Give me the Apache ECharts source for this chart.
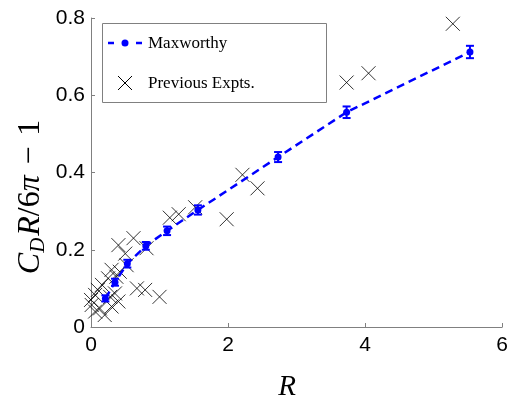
<!DOCTYPE html>
<html>
<head>
<meta charset="utf-8">
<script src="https://cdn.jsdelivr.net/npm/echarts@6/dist/echarts.min.js"></script>
<style>
  html, body { margin: 0; padding: 0; background: #fff; }
  #chart { width: 511px; height: 403px; }
</style>
</head>
<body>
<div id="chart"></div>
<script>
// Maxworthy measurements: R, drag excess, and error half-width
const maxR   = [0.21, 0.35, 0.53, 0.80, 1.11, 1.56, 2.73, 3.73, 5.53];
const maxVal = [0.074, 0.116, 0.164, 0.210, 0.249, 0.303, 0.440, 0.556, 0.712];
const maxErr = [0.008, 0.009, 0.010, 0.010, 0.011, 0.012, 0.013, 0.015, 0.016];

// Earlier experiments
const prevR = [5.28, 3.73, 4.05, 2.21, 2.43, 1.98, 1.52, 1.28, 1.15,
               0.62, 0.40, 0.50, 0.81, 0.52, 0.30, 0.42, 0.37, 0.25,
               0.16, 0.10, 0.06, 0.00, 0.01, 0.13, 0.06, 0.20, 0.30,
               0.40, 0.35, 0.67, 0.79, 1.00, 0.28];
const prevVal = [0.785, 0.633, 0.657, 0.394, 0.359, 0.279, 0.310, 0.292, 0.283,
                 0.230, 0.212, 0.190, 0.204, 0.160, 0.148, 0.143, 0.130, 0.126,
                 0.109, 0.096, 0.083, 0.070, 0.057, 0.048, 0.040, 0.031, 0.053,
                 0.066, 0.087, 0.100, 0.096, 0.078, 0.078];

const xTicks = [0, 2, 4, 6];
const yTicks = [0, 0.2, 0.4, 0.6, 0.8];
const legendNames = ['Maxworthy', 'Previous Expts.'];

const BLUE = '#0000ff';
const CROSS = 'path://M0,0L10,10M10,0L0,10';
const SERIF = '"Liberation Serif", "Times New Roman", serif';

const chart = echarts.init(document.getElementById('chart'), null, { renderer: 'canvas' });

const tickFont = { color: '#000', fontFamily: 'Arial', fontSize: 21 };

// Hand-built legend box (dashed line with dot, and a cross)
const legendGraphics = [
  { type: 'rect', shape: { x: 102.5, y: 23.5, width: 224, height: 79 },
    style: { fill: '#fff', stroke: '#808080', lineWidth: 1 }, z: 10, silent: true },
  { type: 'line', shape: { x1: 108, y1: 43, x2: 114, y2: 43 },
    style: { stroke: BLUE, lineWidth: 2.5 }, z: 11, silent: true },
  { type: 'line', shape: { x1: 136, y1: 43, x2: 142, y2: 43 },
    style: { stroke: BLUE, lineWidth: 2.5 }, z: 11, silent: true },
  { type: 'circle', shape: { cx: 125, cy: 43, r: 3.5 },
    style: { fill: BLUE }, z: 11, silent: true },
  { type: 'polyline', shape: { points: [[118, 76], [132, 90]] },
    style: { stroke: '#000', lineWidth: 1, fill: null }, z: 11, silent: true },
  { type: 'polyline', shape: { points: [[132, 76], [118, 90]] },
    style: { stroke: '#000', lineWidth: 1, fill: null }, z: 11, silent: true },
  { type: 'text', x: 148, y: 44, z: 11, silent: true,
    style: { text: legendNames[0], verticalAlign: 'middle', fill: '#000', font: '17px ' + SERIF } },
  { type: 'text', x: 148, y: 84, z: 11, silent: true,
    style: { text: legendNames[1], verticalAlign: 'middle', fill: '#000', font: '17px ' + SERIF } }
];

chart.setOption({
  animation: false,
  backgroundColor: '#fff',
  grid: { left: 91, right: 8, top: 18, bottom: 76, containLabel: false },
  xAxis: {
    type: 'value', min: xTicks[0], max: xTicks[xTicks.length - 1], interval: 2,
    axisLine: { show: true, lineStyle: { color: '#808080', width: 1 } },
    axisTick: { show: true, inside: true, length: 4, lineStyle: { color: '#808080' } },
    splitLine: { show: false },
    axisLabel: Object.assign({ margin: 8 }, tickFont)
  },
  yAxis: {
    type: 'value', min: yTicks[0], max: yTicks[yTicks.length - 1], interval: 0.2,
    axisLine: { show: true, lineStyle: { color: '#808080', width: 1 } },
    axisTick: { show: true, inside: true, length: 4, lineStyle: { color: '#808080' } },
    splitLine: { show: false },
    axisLabel: Object.assign({ margin: 6, formatter: v => (v === 0 ? '0' : v.toFixed(1)) }, tickFont)
  },
  graphic: legendGraphics.concat([
    { type: 'text', x: 31, y: 197, rotation: Math.PI / 2, silent: true,
      style: {
        text: '{i|C}{s|D}{i|R}{n|/6}{i|π}{n|\u2004−\u20041}',
        align: 'center', verticalAlign: 'middle', fill: '#000',
        rich: {
          i: { fontFamily: SERIF, fontStyle: 'italic', fontSize: 32, fill: '#000' },
          n: { fontFamily: SERIF, fontSize: 32, fill: '#000' },
          s: { fontFamily: SERIF, fontStyle: 'italic', fontSize: 21, fill: '#000', padding: [14, 2, 0, 0] }
        }
      } },
    { type: 'text', x: 287, y: 387, silent: true,
      style: { text: 'R', align: 'center', verticalAlign: 'middle', fill: '#000',
               font: 'italic 29px ' + SERIF } }
  ]),
  series: [
    {
      name: legendNames[1],
      type: 'scatter',
      symbol: CROSS,
      symbolSize: 14,
      itemStyle: { color: 'rgba(0,0,0,0)', borderColor: '#000', borderWidth: 1 },
      data: prevR.map((r, i) => [r, prevVal[i]]),
      z: 3
    },
    {
      name: legendNames[0],
      type: 'line',
      symbol: 'circle',
      symbolSize: 7,
      itemStyle: { color: BLUE, borderColor: BLUE, borderWidth: 0 },
      lineStyle: { color: BLUE, width: 2.5, type: [8, 5] },
      data: maxR.map((r, i) => [r, maxVal[i]]),
      z: 4
    },
    {
      name: 'Maxworthy error',
      type: 'custom',
      data: maxR.map((r, i) => [r, maxVal[i] - maxErr[i], maxVal[i] + maxErr[i]]),
      renderItem: (params, api) => {
        const lo = api.coord([api.value(0), api.value(1)]);
        const hi = api.coord([api.value(0), api.value(2)]);
        const hw = 4;
        const st = { stroke: BLUE, lineWidth: 2 };
        return {
          type: 'group',
          children: [
            { type: 'line', shape: { x1: lo[0], y1: lo[1], x2: hi[0], y2: hi[1] }, style: st },
            { type: 'line', shape: { x1: lo[0] - hw, y1: lo[1], x2: lo[0] + hw, y2: lo[1] }, style: st },
            { type: 'line', shape: { x1: hi[0] - hw, y1: hi[1], x2: hi[0] + hw, y2: hi[1] }, style: st }
          ]
        };
      },
      z: 4
    }
  ]
});
</script>
</body>
</html>
